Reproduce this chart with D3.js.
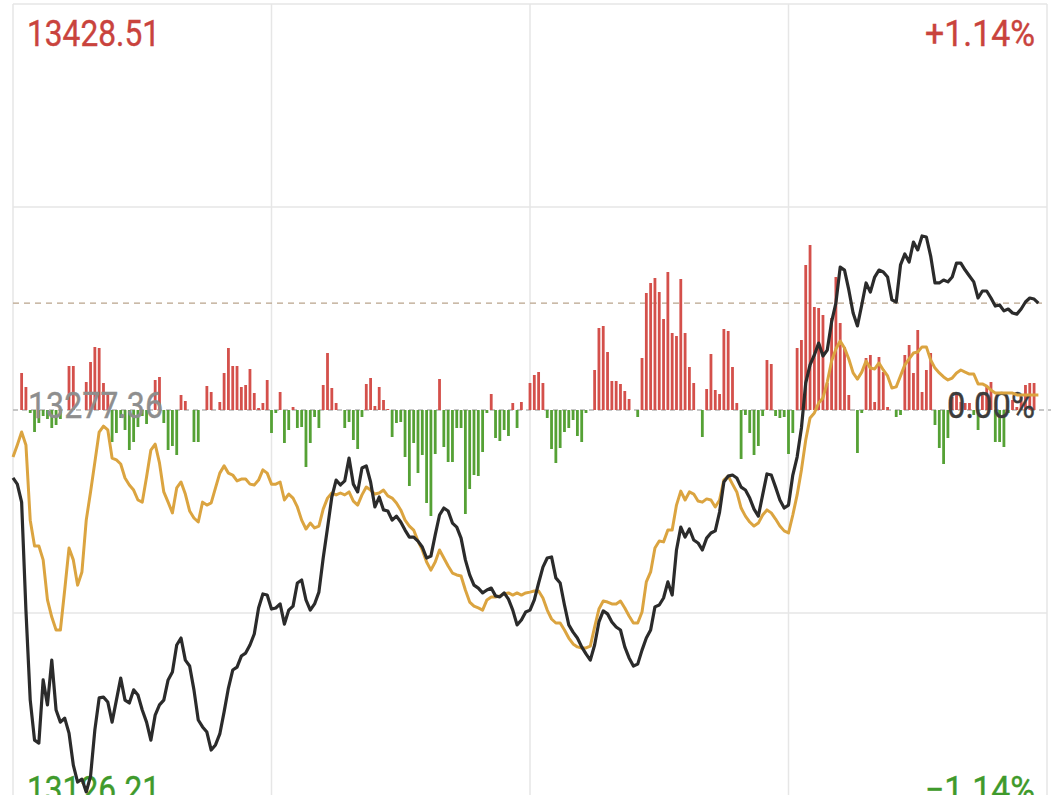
<!DOCTYPE html>
<html><head><meta charset="utf-8">
<script src="https://cdn.jsdelivr.net/npm/d3@7"></script>
<style>html,body{margin:0;padding:0;background:#fff}svg{display:block}</style>
</head><body><svg id="c" width="1060" height="795"></svg>
<script>
// ---- data ----
const prevClose = 13277.36;
const priceHigh = 13428.51;
const priceLow = 13126.21;
const priceLabels = ["13428.51", "13277.36", "13126.21"];
const pctLabels = ["+1.14%", "0.00%", "\u22121.14%"];
const totalMinutes = 240;

// index change vs previous close (points), one value per minute
const indexChange = [
-25.3,-27.6,-34.3,-74.5,-108.0,-122.9,-124.0,-100.5,-109.8,-93.1,
-111.7,-116.2,-114.7,-120.3,-132.2,-138.5,-137.4,-142.2,-136.3,-119.1,
-107.2,-106.9,-108.7,-116.2,-108.0,-99.8,-108.0,-109.1,-104.2,-106.1,
-111.7,-116.2,-122.9,-113.6,-109.8,-108.0,-100.5,-97.5,-87.5,-84.9,
-93.1,-95.3,-104.2,-115.4,-118.0,-119.9,-126.6,-124.7,-120.6,-112.4,
-103.5,-96.8,-95.7,-91.6,-90.5,-87.5,-83.4,-73.7,-68.5,-68.9,
-74.1,-73.7,-72.2,-79.7,-74.5,-73.0,-64.4,-63.3,-70.7,-74.5,
-72.2,-67.8,-55.1,-43.9,-32.4,-26.1,-27.9,-26.4,-17.9,-27.6,
-30.5,-21.6,-20.8,-26.8,-36.1,-32.4,-37.2,-37.6,-41.0,-39.5,
-41.7,-44.7,-47.3,-47.3,-48.8,-51.0,-55.1,-54.4,-46.5,-39.1,
-36.5,-37.6,-42.1,-43.6,-47.7,-55.8,-61.4,-65.2,-66.3,-68.1,
-67.0,-66.3,-69.2,-69.6,-68.1,-70.4,-74.5,-80.0,-78.2,-75.2,
-74.5,-70.7,-64.4,-58.5,-55.1,-54.7,-62.5,-64.4,-72.6,-80.0,
-82.7,-84.9,-88.2,-90.8,-93.1,-87.5,-78.9,-74.8,-75.9,-78.9,
-80.8,-81.9,-88.2,-92.3,-95.3,-94.6,-89.4,-84.9,-81.9,-73.3,
-72.6,-70.0,-64.0,-68.9,-52.1,-43.6,-47.3,-44.3,-48.4,-49.5,
-52.1,-47.7,-45.8,-45.0,-38.0,-26.8,-24.6,-24.2,-25.3,-28.7,
-29.8,-32.8,-36.9,-39.5,-31.6,-23.8,-24.2,-28.7,-33.5,-36.5,
-35.4,-24.2,-17.5,-6.7,10.1,16.8,20.5,24.9,20.1,22.3,
32.8,39.8,53.2,52.1,44.7,36.1,31.3,39.1,47.3,43.9,
49.5,52.1,51.4,49.5,41.0,40.2,54.0,58.1,55.1,62.5,
59.6,64.8,64.4,57.3,47.3,47.3,48.4,47.7,49.5,54.7,
54.7,52.1,49.9,47.7,41.7,44.3,44.3,41.7,38.7,39.1,
36.9,37.6,36.1,35.7,37.6,40.2,41.7,41.3,39.8
];

// reference (yellow) line change vs previous close (points)
const refChange = [
-17.5,-13.0,-8.2,-13.0,-41.0,-50.6,-50.6,-55.8,-70.7,-77.1,
-81.9,-81.9,-67.0,-51.4,-55.8,-65.2,-60.3,-41.0,-30.5,-19.4,
-8.2,-6.0,-7.4,-17.9,-18.6,-20.1,-25.3,-27.9,-29.8,-33.5,
-34.3,-24.9,-14.9,-12.7,-19.7,-30.5,-34.3,-38.3,-29.0,-26.8,
-31.3,-37.6,-40.2,-41.7,-34.3,-35.4,-34.6,-29.0,-23.5,-20.8,
-23.5,-24.2,-26.4,-25.7,-25.7,-27.6,-27.9,-26.1,-22.3,-23.5,
-27.6,-27.6,-26.8,-33.5,-31.3,-32.8,-36.1,-41.0,-44.3,-42.1,
-43.9,-43.2,-36.9,-32.8,-30.9,-31.6,-30.9,-31.6,-30.5,-33.9,
-35.4,-31.6,-28.7,-29.8,-31.3,-30.9,-29.8,-32.0,-32.8,-34.6,
-37.2,-41.0,-43.2,-44.7,-48.8,-52.1,-56.6,-59.6,-56.6,-52.1,
-55.1,-58.1,-60.7,-61.4,-61.8,-67.0,-71.5,-73.0,-73.7,-74.5,
-70.7,-69.6,-69.6,-69.2,-68.5,-68.1,-68.9,-68.1,-68.9,-68.1,
-67.8,-67.4,-67.4,-70.0,-74.5,-77.8,-79.3,-79.3,-81.9,-84.9,
-87.1,-88.2,-88.6,-88.6,-87.9,-80.8,-74.1,-71.1,-71.5,-72.2,
-72.2,-71.1,-73.7,-76.7,-79.3,-79.3,-75.2,-64.0,-60.3,-51.4,
-48.8,-49.1,-44.7,-44.7,-35.4,-30.2,-33.5,-30.5,-31.3,-33.9,
-34.3,-33.1,-33.5,-36.1,-33.5,-26.1,-24.6,-27.6,-30.5,-36.5,
-39.5,-41.7,-43.2,-42.1,-39.1,-37.2,-38.3,-40.6,-43.2,-45.0,
-45.8,-39.1,-31.6,-22.3,-11.2,-3.0,-1.1,2.6,4.5,10.4,
18.2,22.7,25.7,23.1,19.0,13.8,11.5,14.1,18.2,15.6,
15.3,17.5,14.9,12.7,8.2,8.6,12.7,16.8,19.0,21.2,
21.6,23.5,23.5,18.6,15.6,13.8,12.3,11.2,11.9,13.8,
14.9,14.1,13.4,13.4,9.7,9.7,8.9,7.4,6.3,6.3,
6.3,6.3,6.3,5.6,5.6,5.6,5.6,5.6,5.6
];

// per-minute red/green strength bars
const flowBars = [
0,0,37,23,-3,-22,-13,-6,-9,-18,
-15,-9,0,44,44,0,0,28,48,63,
62,27,16,-32,-23,-8,-20,-40,-32,-17,
-6,-14,0,30,33,-13,-40,-36,-45,15,
9,0,-32,-32,0,24,18,0,8,37,
62,44,44,23,25,41,17,2,7,30,
-23,-3,18,-33,-20,3,-18,-17,-57,-33,
-7,-18,25,57,22,7,0,-18,-12,-30,
-39,-7,26,32,4,23,10,1,-27,-13,
-12,-47,-76,-33,-63,-45,-93,-106,-44,31,
-37,-52,-52,-18,-18,-104,-79,-65,-66,-42,
-3,16,-28,-31,-20,-26,7,-18,8,0,
27,35,38,27,-8,-39,-53,-38,-22,-18,
-10,-26,-32,-3,0,40,82,84,58,29,
29,26,19,11,0,-7,52,117,127,132,
118,91,138,77,74,131,77,43,27,0,
-27,21,56,20,16,81,79,43,7,-49,
-5,-23,-45,-36,-6,50,46,-6,-8,-7,
-44,-23,62,70,145,165,103,102,95,27,
92,133,87,63,15,0,-43,-3,52,55,
8,53,38,3,0,-7,-5,55,65,37,
80,18,40,57,-15,-38,-54,-28,13,17,
8,7,7,-5,-20,15,23,28,-32,-32,
-37,-3,10,3,13,25,27,27
];

// ---- chart ----
const svg = d3.select("#c");
const plotL = 13, plotR = 1047, plotT = 4, plotB = 816;
const x = d3.scaleLinear().domain([0, totalMinutes]).range([plotL, plotR]);
const y = d3.scaleLinear().domain([priceLow, priceHigh]).range([plotB, plotT]);
const yBar = d3.scaleLinear().domain([-200, 200]).range([y(prevClose) + 200, y(prevClose) - 200]);

const gridColor = "#e6e6e6";
svg.append("g").selectAll("line").data(d3.range(0, totalMinutes + 1, 60)).join("line")
  .attr("x1", d => x(d)).attr("x2", d => x(d)).attr("y1", plotT).attr("y2", 795)
  .attr("stroke", gridColor).attr("stroke-width", 1.5);
const hLevels = d3.range(5).map(i => priceLow + i * (priceHigh - priceLow) / 4).filter(v => Math.abs(v - prevClose) > 1);
svg.append("g").selectAll("line").data(hLevels).join("line")
  .attr("x1", plotL).attr("x2", plotR).attr("y1", d => y(d)).attr("y2", d => y(d))
  .attr("stroke", gridColor).attr("stroke-width", 1.5);

svg.append("line").attr("x1", plotL).attr("x2", plotR + 4)
  .attr("y1", y(prevClose)).attr("y2", y(prevClose))
  .attr("stroke", "#b4b4b4").attr("stroke-width", 1.5).attr("stroke-dasharray", "5,4");

const lastPrice = prevClose + indexChange[indexChange.length - 1];
svg.append("line").attr("x1", plotL).attr("x2", plotR)
  .attr("y1", y(lastPrice)).attr("y2", y(lastPrice))
  .attr("stroke", "#b9a48c").attr("stroke-width", 1.4).attr("stroke-dasharray", "6,5");

const bw = 2.8;
svg.append("g").selectAll("rect").data(flowBars.map((v, i) => ({v, i})).filter(d => d.v !== 0)).join("rect")
  .attr("x", d => x(d.i) - bw / 2)
  .attr("width", bw)
  .attr("y", d => Math.min(yBar(d.v), yBar(0)))
  .attr("height", d => Math.abs(yBar(d.v) - yBar(0)))
  .attr("fill", d => d.v > 0 ? "#d4504b" : "#55a135");

const fs = 36;
const lab = svg.append("g").attr("font-family", "Roboto, 'Noto Sans', sans-serif").attr("font-size", fs);
const labelSpecs = [
  {t: priceLabels[0], v: priceHigh, dy: 42, anchor: "start", xx: 27, fill: "#c9433d", w: 133},
  {t: pctLabels[0], v: priceHigh, dy: 42, anchor: "end", xx: 1035, fill: "#c9433d", w: 110},
  {t: priceLabels[1], v: prevClose, dy: 8, anchor: "start", xx: 28, fill: "#8e8e8e", w: 135},
  {t: pctLabels[1], v: prevClose, dy: 8, anchor: "end", xx: 1035, fill: "#3c3c3c", w: 88},
  {t: priceLabels[2], v: priceLow, dy: -14, anchor: "start", xx: 27, fill: "#3f9a2c", w: 133},
  {t: pctLabels[2], v: priceLow, dy: -14, anchor: "end", xx: 1035, fill: "#3f9a2c", w: 110}
];
lab.selectAll("text").data(labelSpecs).join("text")
  .attr("x", d => d.xx).attr("y", d => y(d.v) + d.dy)
  .attr("text-anchor", d => d.anchor)
  .attr("fill", d => d.fill)
  .attr("stroke", d => d.fill).attr("stroke-width", 0.4)
  .attr("textLength", d => d.w).attr("lengthAdjust", "spacingAndGlyphs")
  .text(d => d.t);

const line = d3.line().x((d, i) => x(i)).y(d => y(prevClose + d));
svg.append("path").datum(refChange).attr("d", line)
  .attr("fill", "none").attr("stroke", "#dba440").attr("stroke-width", 3).attr("stroke-linejoin", "round");
svg.append("path").datum(indexChange).attr("d", line)
  .attr("fill", "none").attr("stroke", "#2b2b2b").attr("stroke-width", 3.2).attr("stroke-linejoin", "round");
</script></body></html>
